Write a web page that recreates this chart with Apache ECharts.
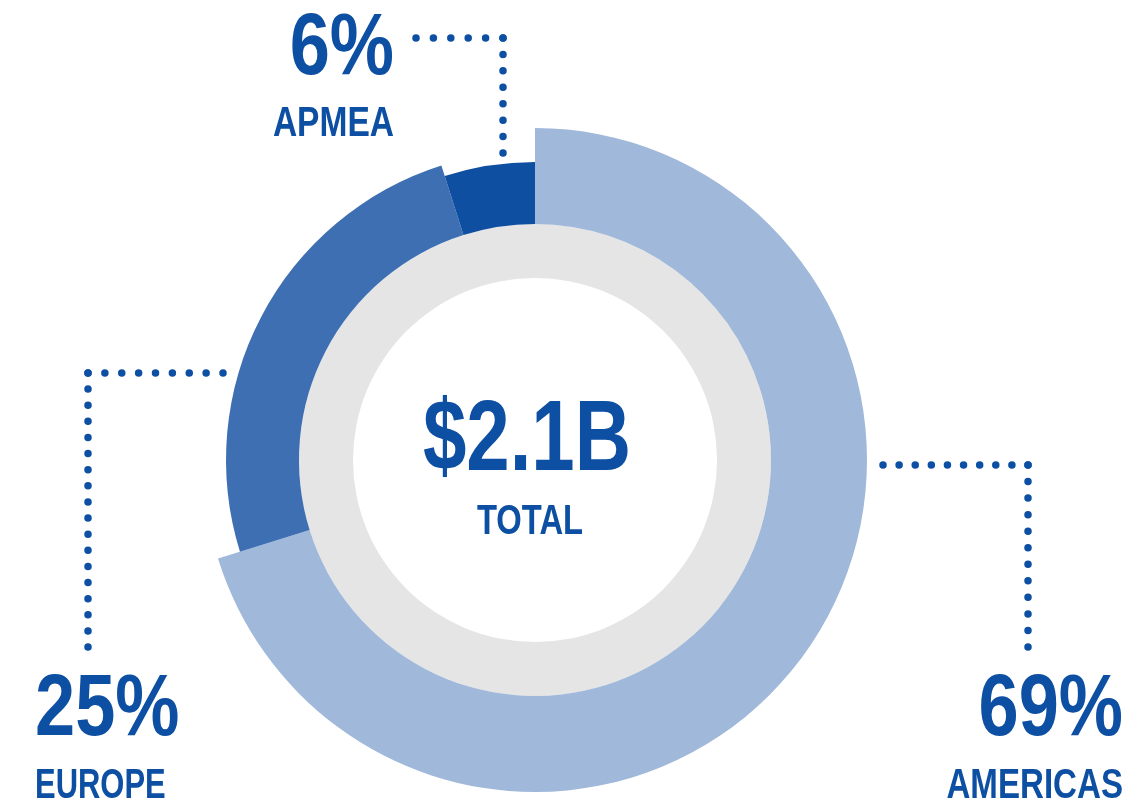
<!DOCTYPE html>
<html>
<head>
<meta charset="utf-8">
<script src="https://cdn.jsdelivr.net/npm/echarts@6/dist/echarts.min.js"></script>
<style>
  html, body { margin: 0; padding: 0; background: #fff; }
  #chart { width: 1132px; height: 801px; }
</style>
</head>
<body>
<div id="chart"></div>
<script>
// arc sizes as drawn in the picture (the printed labels are rounded differently)
const regions = ["AMERICAS", "EUROPE", "APMEA"];
const shares = [70.2, 24.9, 4.9];
const shareLabels = ["69%", "25%", "6%"];
const totalLabel = "$2.1B";
const totalCaption = "TOTAL";

const FONT = '"Liberation Sans", Arial, sans-serif';
const TEXT_BLUE = "#0d4fa2";
const CENTER = [535, 460];
const INNER = 236;
const ringOuter = [332, 309, 298];
const ringColors = ["#a0b8d9", "#3d6fb2", "#0e4fa1"];

// label anchors and dotted leaders (each leader drawn from its corner outward)
const labelSpots = [
  { x: 1123, pctY: 711, nameY: 786, align: "right", nameSqueeze: 0.77, corner: [1028, 465], ends: [[883, 465, 9], [1028, 647, 11]] },
  { x: 35, pctY: 711, nameY: 786, align: "left", nameSqueeze: 0.72, corner: [88, 373], ends: [[223, 373, 8], [88, 647, 17]] },
  { x: 394, pctY: 50, nameY: 124, align: "right", nameSqueeze: 0.78, corner: [503, 38], ends: [[416, 38, 5], [503, 153, 7]] },
];

function regionSeries(idx) {
  return {
    type: "pie",
    center: CENTER,
    radius: [INNER, ringOuter[idx]],
    startAngle: 90,
    clockwise: true,
    silent: true,
    animation: false,
    itemStyle: { borderWidth: 0 },
    label: { show: false },
    labelLine: { show: false },
    data: regions.map((name, i) => ({
      name,
      value: shares[i],
      itemStyle: { color: i === idx ? ringColors[i] : "rgba(0,0,0,0)", borderWidth: 0 },
    })),
  };
}

function textEl(text, x, y, align, size, squeeze) {
  return {
    type: "text",
    x,
    y,
    scaleX: squeeze,
    silent: true,
    style: {
      text,
      x: 0,
      y: 0,
      fill: TEXT_BLUE,
      font: "bold " + size + "px " + FONT,
      align,
      textAlign: align,
      verticalAlign: "middle",
      textVerticalAlign: "middle",
    },
  };
}

// one straight run of round dots; run a pixel past the end so the last dot is kept
function dottedLeg(from, to, dots) {
  const dx = to[0] - from[0];
  const dy = to[1] - from[1];
  const len = Math.hypot(dx, dy);
  const end = [to[0] + dx / len, to[1] + dy / len];
  return {
    type: "polyline",
    silent: true,
    shape: { points: [from, end] },
    style: { stroke: TEXT_BLUE, fill: null, lineWidth: 7.5, lineDash: [0, len / dots], lineCap: "round" },
  };
}

const leaders = [];
labelSpots.forEach((s) => {
  s.ends.forEach((e) => leaders.push(dottedLeg(s.corner, e, e[2])));
});

const chart = echarts.init(document.getElementById("chart"));
chart.setOption({
  backgroundColor: "#ffffff",
  animation: false,
  series: [
    {
      type: "pie",
      center: CENTER,
      radius: [182, INNER],
      silent: true,
      animation: false,
      itemStyle: { color: "#e5e5e5", borderWidth: 0 },
      label: { show: false },
      labelLine: { show: false },
      data: [{ name: totalCaption, value: 1 }],
    },
    regionSeries(0),
    regionSeries(1),
    regionSeries(2),
  ],
  graphic: [
    ...leaders,
    ...labelSpots.map((s, i) => textEl(shareLabels[i], s.x, s.pctY, s.align, 88, 0.82)),
    ...labelSpots.map((s, i) => textEl(regions[i], s.x, s.nameY, s.align, 43, s.nameSqueeze)),
    textEl(totalLabel, 527, 442, "center", 100, 0.78),
    textEl(totalCaption, 530, 522, "center", 42, 0.78),
  ],
});
</script>
</body>
</html>
